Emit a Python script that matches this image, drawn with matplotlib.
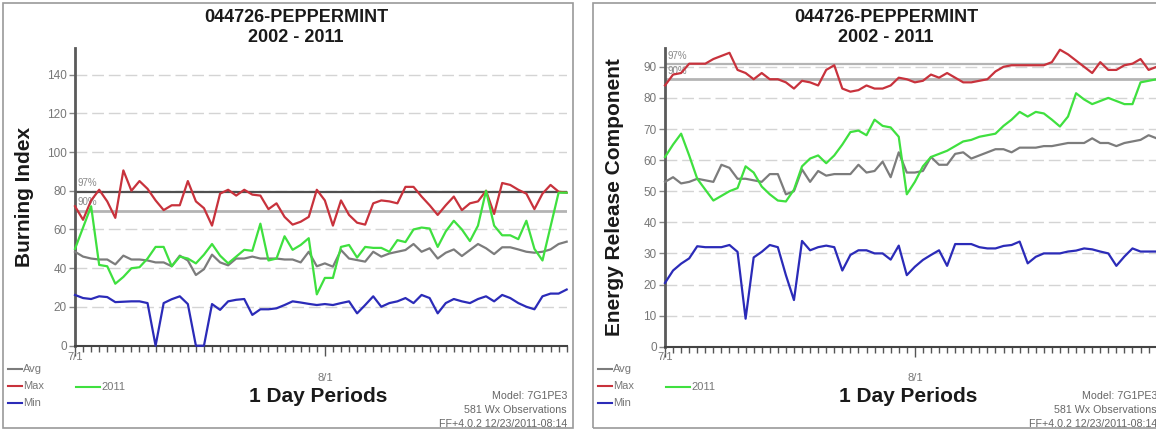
"""
Peppermint RAWS: Burning Index and ERC, 7/1 - 8/31, 2002-2011 climatology vs 2011
"""

import matplotlib
matplotlib.use('Agg')
import matplotlib.pyplot as plt
from matplotlib.patches import Rectangle
from matplotlib.lines import Line2D
from matplotlib.ticker import MultipleLocator, FixedLocator, NullFormatter

plt.rcParams['font.family'] = ['Liberation Sans', 'DejaVu Sans']

# Data (daily, 7/1 .. 8/31)
days = list(range(62))

bi_avg = [48.5, 46, 45, 44.5, 44.5, 42, 46.5, 44.5, 44.5, 44, 43, 43, 41, 46.5, 44,
          36.5, 39.5, 47, 43, 41.5, 45, 45, 46, 45, 45, 45, 44.5, 44.5, 43, 48.5,
          41, 42.5, 40.8, 49.4, 45, 44.2, 43.4, 48.5, 46, 47.6, 48.5, 49.4, 52.5, 48.5, 50.3,
          45, 48, 49.7, 46.3, 49.4, 52.5, 50.3, 47.3, 50.8, 50.8, 49.7, 48.5, 48, 48.5, 49.7,
          52.5, 53.7]
bi_max = [72, 65, 75, 80.5, 74.5, 66, 90.5, 80, 85, 81, 75, 70, 72.5, 72.5, 85,
          74.5, 71, 62, 78.5, 80.5, 77.5, 80.5, 78, 77.5, 70.5, 73.5, 66.5, 62.5, 64, 66.5,
          80.5, 75, 62, 75, 67.5, 63.5, 62.5, 73.5, 75, 74.5, 73.5, 82, 82, 77, 72.5,
          67.5, 72.5, 77, 70, 73.5, 74.5, 80, 68, 84, 83, 80.5, 78.5, 70.5, 78.5, 83,
          79.5, 79]
bi_min = [26.2, 24.6, 24.1, 25.5, 25.1, 22.5, 22.7, 22.9, 22.9, 22, 0, 22, 24, 25.5, 21.5,
          0, 0, 21.5, 18.5, 22.9, 23.7, 24.1, 15.9, 18.8, 18.8, 19.3, 21, 22.9, 22.3, 21.6,
          21, 21.5, 21, 22, 22.9, 16.7, 21, 25.5, 20.1, 22, 22.9, 24.6, 22, 26.2, 24.6,
          16.7, 22, 24.1, 22.9, 22, 24.1, 25.5, 22.9, 26.2, 24.6, 22, 20.1, 18.8, 25.5, 26.9,
          26.9, 29]
bi_2011 = [50, 61, 72, 41.7, 41, 32, 35.5, 40, 40.5, 45, 51, 51, 41, 46, 45,
           42.5, 47, 52.5, 46.5, 42.5, 46, 49.5, 49, 63, 44, 45, 56.5, 49.5, 52, 55.5,
           26.5, 35, 35, 51, 52, 45.5, 51, 50.5, 50.5, 48.5, 54.5, 53.5, 60, 61, 60.5,
           51, 59, 64.5, 60, 54, 62, 80, 62, 57, 57, 55, 64.5, 50, 44, 61.5,
           79, 79]

erc_avg = [53, 54.5, 52.5, 53, 54, 53.5, 53, 58.5, 57.5, 54, 54, 53.5, 53, 55.5, 55.5,
           49, 50, 57, 53, 56.5, 55, 55.5, 55.5, 55.5, 58.5, 56, 56.5, 59.5, 54.5, 62.5,
           56, 56, 56.5, 61, 58.5, 58.5, 62, 62.5, 60.5, 61.5, 62.5, 63.5, 63.5, 62.5, 64,
           64, 64, 64.5, 64.5, 65, 65.5, 65.5, 65.5, 67, 65.5, 65.5, 64.5, 65.5, 66, 66.5,
           68, 67]
erc_max = [84, 87.5, 88, 91, 91, 91, 92.5, 93.5, 94.5, 89, 88, 86, 88, 86, 86,
           85, 83, 85.5, 85, 84, 89, 90.5, 83, 82, 82.5, 84, 83, 83, 84, 86.5,
           86, 85, 85.5, 87.5, 86.5, 88, 86.5, 85, 85, 85.5, 86, 88.5, 90, 90.5, 90.5,
           90.5, 90.5, 90.5, 91.5, 95.5, 94, 92, 90, 88, 91.5, 89, 89, 90.5, 91, 92.5,
           89, 90]
erc_min = [20.5, 24.5, 26.7, 28.4, 32.3, 32, 32, 32, 32.7, 30.5, 9, 28.7, 30.5, 32.7, 32,
           23, 15, 34, 31, 32, 32.5, 32, 24.5, 29.5, 31, 31, 30, 30, 28, 32.5,
           23, 25.7, 27.9, 29.5, 31, 26, 33, 33, 33, 32, 31.6, 31.6, 32.4, 32.7, 33.8,
           26.8, 28.9, 30, 30, 30, 30.6, 30.9, 31.6, 31.3, 30.6, 30, 26, 29, 31.6, 30.6,
           30.6, 30.6]
erc_2011 = [61, 65, 68.5, 61.5, 54, 50.5, 47, 48.5, 50, 51, 58, 56, 51.5, 49, 47,
            46.7, 50.5, 58, 60.5, 61.5, 59, 61.5, 65, 69, 69.5, 68, 73, 71, 70.5, 67.5,
            49, 53, 58, 61, 62, 63, 64.5, 66, 66.5, 67.5, 68, 68.5, 71, 73, 75.5,
            74, 75.5, 75, 73, 70.8, 74, 81.5, 79.5, 78, 79, 80, 79, 78, 78, 85,
            85.5, 86]

bi_ticks = [0, 20, 40, 60, 80, 100, 120, 140]
erc_ticks = [0, 10, 20, 30, 40, 50, 60, 70, 80, 90]
date_labels = ['7/1', '8/1']
date_pos = [0, 31]

AVG_C = '#7c7c7c'
MAX_C = '#c8323c'
MIN_C = '#2b2bb8'
YR_C = '#3fe03f'

W, H = 1156, 432
fig = plt.figure(figsize=(W / 100, H / 100), dpi=100)


def ft(x, y, s, **kw):
    # text placed in pixel coordinates (from top-left)
    return fig.text(x / W, 1 - y / H, s, **kw)


def panel(dx, ylabel, ymax, px_unit, y0, ticks, avg, mx, mn, yr, p97, p90, c97):
    x0 = 75 + dx
    x1 = x0 + 61 * 8.06
    top = y0 - ymax * px_unit
    ax = fig.add_axes([x0 / W, 1 - y0 / H, (x1 - x0) / W, (y0 - top) / H])
    ax.set_xlim(0, 61)
    ax.set_ylim(0, ymax)
    ax.patch.set_alpha(0)

    # dashed grid
    for t in ticks[1:]:
        ax.axhline(t, color='#d4d4d4', lw=1, ls=(0, (8.5, 3.5)), zorder=1)

    # percentile lines
    ax.axhline(p97, color=c97, lw=1.6, zorder=2)
    ax.axhline(p90, color='#b4b4b4', lw=2, zorder=2)
    ax.text(0.25, p97 + 0.9 * 10 / px_unit * 0.4, '97%', fontsize=7, color='#8a8a8a',
            va='bottom', ha='left', zorder=2)
    ax.text(0.25, p90 + 0.9 * 10 / px_unit * 0.4, '90%', fontsize=7, color='#8a8a8a',
            va='bottom', ha='left', zorder=2)

    ax.plot(days, avg, color=AVG_C, lw=1.6, zorder=3, clip_on=False)
    ax.plot(days, mx, color=MAX_C, lw=1.6, zorder=3, clip_on=False)
    ax.plot(days, mn, color=MIN_C, lw=1.6, zorder=3, clip_on=False)
    ax.plot(days, yr, color=YR_C, lw=1.6, zorder=4, clip_on=False)

    for s in ['top', 'right']:
        ax.spines[s].set_visible(False)
    ax.spines['left'].set_color('#5a5a5a')
    ax.spines['left'].set_linewidth(2)
    ax.spines['bottom'].set_color('#444444')
    ax.spines['bottom'].set_linewidth(1.5)

    ax.yaxis.set_major_locator(FixedLocator(ticks))
    ax.set_yticklabels([str(t) for t in ticks])
    ax.tick_params(axis='y', length=4, width=1, color='#888888', labelsize=8.5,
                   labelcolor='#777777', pad=2)
    ax.xaxis.set_major_locator(FixedLocator(date_pos))
    ax.xaxis.set_major_formatter(NullFormatter())
    ax.xaxis.set_minor_locator(MultipleLocator(1))
    ax.tick_params(axis='x', which='major', length=7, width=1, color='#555555')
    ax.tick_params(axis='x', which='minor', length=4, width=1, color='#555555')

    # panel frame
    fig.add_artist(Rectangle(((3 + dx) / W, 1 - 428 / H), 570 / W, 425 / H,
                             transform=fig.transFigure, fill=False,
                             edgecolor='#9a9a9a', lw=1.2))

    # titles
    ft(296 + dx, 18, '044726-PEPPERMINT', fontsize=13, weight='bold', ha='center', va='center',
       color='#1a1a1a')
    ft(296 + dx, 37, '2002 - 2011', fontsize=13, weight='bold', ha='center', va='center',
       color='#1a1a1a')
    ft(24 + dx, 197, ylabel, fontsize=15, weight='bold', rotation=90, ha='center',
       va='center', color='#1a1a1a')

    # date labels (staggered)
    ft(x0 + date_pos[0] * 8.06, 357, date_labels[0], fontsize=8, color='#777777',
       ha='center', va='center')
    ft(x0 + date_pos[1] * 8.06, 378, date_labels[1], fontsize=8, color='#777777',
       ha='center', va='center')

    # legend
    for name, c, y in [('Avg', AVG_C, 369), ('Max', MAX_C, 386), ('Min', MIN_C, 403)]:
        fig.add_artist(Line2D([(8 + dx) / W, (22 + dx) / W], [1 - y / H] * 2, color=c, lw=1.5))
        ft(23 + dx, y, name, fontsize=8, color='#777777', ha='left', va='center')
    fig.add_artist(Line2D([(76 + dx) / W, (100 + dx) / W], [1 - 387 / H] * 2, color=YR_C, lw=1.5))
    ft(101 + dx, 387, '2011', fontsize=8, color='#777777', ha='left', va='center')

    ft(318 + dx, 396, '1 Day Periods', fontsize=15, weight='bold', ha='center', va='center',
       color='#1a1a1a')
    ft(567 + dx, 396, 'Model: 7G1PE3', fontsize=7.7, color='#666666', ha='right', va='center')
    ft(567 + dx, 410, '581 Wx Observations', fontsize=7.7, color='#666666', ha='right',
       va='center')
    ft(567 + dx, 424, 'FF+4.0.2 12/23/2011-08:14', fontsize=7.7, color='#666666', ha='right',
       va='center')
    return ax


panel(0, 'Burning Index', 153.5, 1.937, 345.7, bi_ticks,
      bi_avg, bi_max, bi_min, bi_2011, 79.5, 69.5, '#505050')
panel(590, 'Energy Release Component', 96, 3.11, 346.7, erc_ticks,
      erc_avg, erc_max, erc_min, erc_2011, 90.8, 86, '#b4b4b4')

plt.savefig('out.png', dpi=100)
plt.close()
